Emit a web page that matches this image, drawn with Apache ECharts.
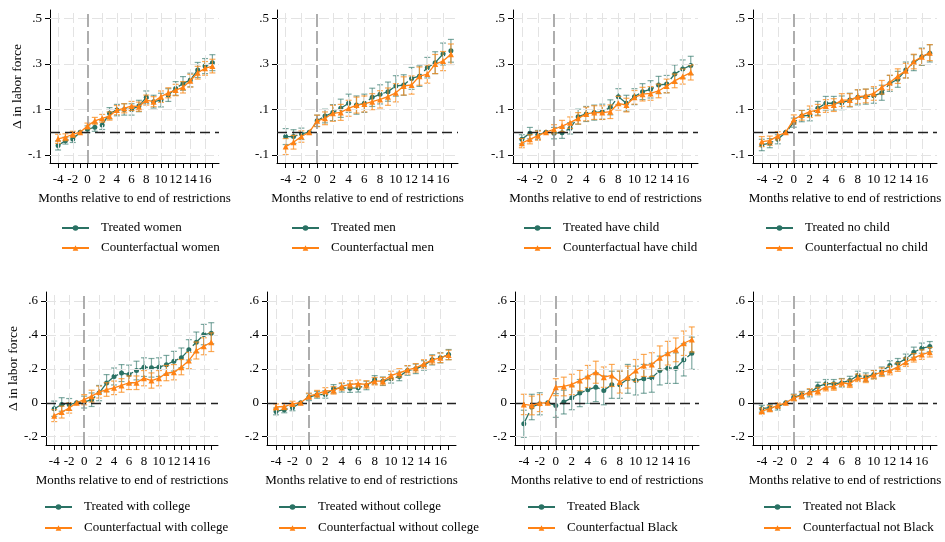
<!DOCTYPE html>
<html><head><meta charset="utf-8">
<script src="https://cdn.jsdelivr.net/npm/echarts@6/dist/echarts.min.js"></script>
<style>html,body{margin:0;padding:0;background:#fff}#c{width:945px;height:542px}</style>
</head><body><div id="c"></div>
<script>
// ---------- data ----------
const months = [-4,-3,-2,-1,0,1,2,3,4,5,6,7,8,9,10,11,12,13,14,15,16,17];
const xTickLabels = [-4,-2,0,2,4,6,8,10,12,14,16];
const yTicksTop = [-0.1,0.1,0.3,0.5];
const yTicksBottom = [-0.2,0,0.2,0.4,0.6];
const groups = ['women','men','have child','no child','with college','without college','Black','not Black'];

const treated_women = [-0.058,-0.037,-0.030,0,0.013,0.022,0.032,0.083,0.097,0.100,0.100,0.115,0.153,0.134,0.141,0.163,0.192,0.214,0.229,0.273,0.290,0.305];
const ci_treated_women = [0.020,0.015,0.015,0,0.015,0.018,0.020,0.025,0.025,0.025,0.025,0.025,0.028,0.028,0.030,0.028,0.030,0.030,0.030,0.033,0.033,0.035];
const cf_women = [-0.029,-0.022,-0.009,0,0.027,0.050,0.061,0.071,0.097,0.105,0.115,0.112,0.141,0.134,0.156,0.173,0.185,0.197,0.226,0.261,0.280,0.290];
const ci_cf_women = [0.020,0.015,0.013,0,0.013,0.015,0.017,0.018,0.020,0.020,0.020,0.020,0.022,0.022,0.025,0.022,0.025,0.025,0.028,0.028,0.030,0.030];

const treated_men = [-0.019,-0.019,-0.007,0,0.050,0.071,0.086,0.105,0.127,0.119,0.127,0.153,0.166,0.178,0.203,0.207,0.236,0.246,0.283,0.305,0.343,0.357];
const ci_treated_men = [0.035,0.030,0.025,0,0.025,0.030,0.035,0.040,0.040,0.040,0.040,0.040,0.042,0.042,0.045,0.045,0.048,0.045,0.045,0.048,0.048,0.050];
const cf_men = [-0.063,-0.044,-0.019,0,0.050,0.061,0.083,0.087,0.105,0.119,0.124,0.134,0.144,0.156,0.173,0.203,0.207,0.246,0.255,0.299,0.312,0.342];
const ci_cf_men = [0.035,0.030,0.025,0,0.025,0.028,0.035,0.035,0.035,0.035,0.035,0.035,0.038,0.038,0.040,0.040,0.040,0.040,0.040,0.042,0.042,0.045];

const treated_child = [-0.031,-0.004,-0.012,0,-0.004,-0.002,0.017,0.068,0.080,0.086,0.090,0.109,0.156,0.127,0.156,0.178,0.188,0.207,0.211,0.255,0.277,0.293];
const ci_treated_child = [0.020,0.025,0.020,0,0.025,0.025,0.025,0.033,0.033,0.033,0.033,0.033,0.035,0.035,0.035,0.035,0.038,0.038,0.038,0.040,0.040,0.040];
const cf_child = [-0.048,-0.031,-0.015,0,0.013,0.027,0.042,0.061,0.080,0.086,0.086,0.090,0.127,0.119,0.153,0.167,0.170,0.181,0.203,0.225,0.244,0.262];
const ci_cf_child = [0.020,0.020,0.020,0,0.020,0.025,0.025,0.025,0.030,0.030,0.030,0.030,0.030,0.030,0.030,0.030,0.030,0.030,0.030,0.030,0.033,0.033];

const treated_nochild = [-0.056,-0.048,-0.031,0,0.042,0.071,0.075,0.105,0.127,0.127,0.129,0.141,0.153,0.156,0.160,0.173,0.214,0.232,0.273,0.305,0.331,0.346];
const ci_treated_nochild = [0.025,0.020,0.020,0,0.020,0.025,0.025,0.030,0.030,0.030,0.030,0.030,0.033,0.033,0.033,0.033,0.035,0.035,0.035,0.035,0.038,0.038];
const cf_nochild = [-0.041,-0.037,-0.016,0,0.056,0.075,0.090,0.097,0.115,0.119,0.141,0.141,0.156,0.159,0.170,0.197,0.218,0.246,0.270,0.310,0.331,0.349];
const ci_cf_nochild = [0.022,0.020,0.018,0,0.020,0.022,0.025,0.025,0.028,0.028,0.028,0.028,0.030,0.030,0.030,0.030,0.032,0.032,0.032,0.032,0.035,0.035];

const treated_college = [-0.035,-0.010,-0.010,0,0.004,0.018,0.057,0.116,0.155,0.175,0.167,0.190,0.210,0.206,0.210,0.224,0.245,0.265,0.312,0.357,0.402,0.410];
const ci_treated_college = [0.045,0.040,0.035,0,0.035,0.040,0.045,0.050,0.050,0.050,0.055,0.055,0.055,0.055,0.055,0.055,0.058,0.058,0.060,0.060,0.060,0.062];
const cf_college = [-0.076,-0.055,-0.031,0,0.018,0.039,0.063,0.078,0.088,0.102,0.118,0.118,0.145,0.131,0.145,0.175,0.180,0.210,0.249,0.308,0.333,0.357];
const ci_cf_college = [0.035,0.035,0.030,0,0.030,0.035,0.035,0.040,0.040,0.040,0.040,0.040,0.045,0.045,0.045,0.045,0.045,0.045,0.048,0.050,0.050,0.055];

const treated_nocollege = [-0.051,-0.041,-0.029,0,0.033,0.047,0.049,0.082,0.088,0.086,0.088,0.102,0.135,0.127,0.141,0.155,0.190,0.200,0.220,0.253,0.265,0.284];
const ci_treated_nocollege = [0.020,0.018,0.018,0,0.020,0.020,0.022,0.025,0.025,0.025,0.025,0.025,0.025,0.025,0.025,0.025,0.028,0.028,0.028,0.030,0.030,0.030];
const cf_nocollege = [-0.025,-0.022,-0.006,0,0.039,0.053,0.069,0.073,0.096,0.108,0.112,0.108,0.127,0.127,0.161,0.176,0.194,0.206,0.229,0.253,0.265,0.282];
const ci_cf_nocollege = [0.018,0.018,0.015,0,0.018,0.020,0.020,0.022,0.022,0.022,0.022,0.022,0.022,0.022,0.025,0.025,0.025,0.025,0.025,0.025,0.028,0.028];

const treated_black = [-0.124,-0.025,-0.006,0,-0.016,0.004,0.029,0.057,0.076,0.092,0.073,0.106,0.106,0.141,0.131,0.141,0.147,0.190,0.204,0.204,0.253,0.292];
const ci_treated_black = [0.080,0.075,0.065,0,0.070,0.070,0.070,0.080,0.080,0.085,0.085,0.080,0.080,0.085,0.085,0.085,0.085,0.085,0.090,0.090,0.095,0.095];
const cf_black = [-0.010,-0.016,-0.002,0,0.092,0.096,0.108,0.131,0.155,0.180,0.151,0.161,0.122,0.151,0.190,0.220,0.225,0.265,0.292,0.312,0.351,0.373];
const ci_cf_black = [0.060,0.055,0.050,0,0.050,0.055,0.060,0.060,0.065,0.065,0.060,0.065,0.065,0.065,0.065,0.065,0.070,0.070,0.070,0.070,0.072,0.074];

const treated_notblack = [-0.035,-0.029,-0.025,0,0.033,0.047,0.057,0.096,0.112,0.112,0.118,0.131,0.161,0.151,0.167,0.186,0.220,0.233,0.259,0.298,0.322,0.331];
const ci_treated_notblack = [0.020,0.018,0.018,0,0.018,0.020,0.022,0.025,0.025,0.025,0.025,0.025,0.025,0.025,0.025,0.025,0.028,0.028,0.028,0.030,0.030,0.030];
const cf_notblack = [-0.049,-0.035,-0.016,0,0.029,0.043,0.063,0.069,0.092,0.096,0.118,0.112,0.147,0.141,0.165,0.180,0.190,0.210,0.239,0.265,0.284,0.298];
const ci_cf_notblack = [0.018,0.018,0.015,0,0.018,0.020,0.020,0.022,0.022,0.022,0.022,0.022,0.022,0.022,0.025,0.025,0.025,0.025,0.025,0.025,0.028,0.028];

const panels = [
  [treated_women, ci_treated_women, cf_women, ci_cf_women],
  [treated_men, ci_treated_men, cf_men, ci_cf_men],
  [treated_child, ci_treated_child, cf_child, ci_cf_child],
  [treated_nochild, ci_treated_nochild, cf_nochild, ci_cf_nochild],
  [treated_college, ci_treated_college, cf_college, ci_cf_college],
  [treated_nocollege, ci_treated_nocollege, cf_nocollege, ci_cf_nocollege],
  [treated_black, ci_treated_black, cf_black, ci_cf_black],
  [treated_notblack, ci_treated_notblack, cf_notblack, ci_cf_notblack]
];

// ---------- layout & style ----------
const FONT = 'Liberation Serif';
const TEAL = '#2a7264';
const TEAL_ERR = 'rgba(42,114,100,0.6)';
const ORANGE = '#ff8214';
const ORANGE_ERR = 'rgba(250,140,30,0.75)';
const layout = [
  {left:50, width:169, legendLeft:61},
  {left:277, width:181, legendLeft:291},
  {left:513, width:185, legendLeft:523},
  {left:753, width:184, legendLeft:765},
  {left:46, width:172, legendLeft:44},
  {left:267, width:189, legendLeft:278},
  {left:515, width:184, legendLeft:527},
  {left:753, width:184, legendLeft:763}
];
const rows = [
  {top:10, height:153, min:-0.135, max:0.536, ticks:yTicksTop, legendTop:221, gap:6, nameGap:24},
  {top:292, height:153, min:-0.249, max:0.653, ticks:yTicksBottom, legendTop:500, gap:7, nameGap:20}
];

function fmt(v){ return String(v).replace('0.', '.'); }

function errRender(params, api){
  const x = api.value(0), lo = api.value(1), hi = api.value(2);
  if (!(hi - lo > 0)) return;
  const a = api.coord([x, lo]), b = api.coord([x, hi]);
  const w = 3;
  const style = {stroke: api.visual('color'), lineWidth: 1.2, fill: null};
  return {type:'group', children:[
    {type:'line', shape:{x1:a[0], y1:a[1], x2:b[0], y2:b[1]}, style: style},
    {type:'line', shape:{x1:a[0]-w, y1:a[1], x2:a[0]+w, y2:a[1]}, style: style},
    {type:'line', shape:{x1:b[0]-w, y1:b[1], x2:b[0]+w, y2:b[1]}, style: style}
  ]};
}

const grid = [], xAxis = [], yAxis = [], series = [], legend = [];
panels.forEach((p, i) => {
  const L = layout[i], R = rows[i < 4 ? 0 : 1];
  const g = groups[i];
  const tName = 'Treated ' + g, cName = 'Counterfactual ' + g;
  grid.push({left:L.left, width:L.width, top:R.top, height:R.height, containLabel:false});
  xAxis.push({
    gridIndex:i, type:'value', min:-5.1, max:17.9,
    axisLine:{show:true, onZero:false, lineStyle:{color:'#000', width:1}},
    axisTick:{show:true, length:5, customValues:months, lineStyle:{color:'#000', width:1}},
    axisLabel:{customValues:xTickLabels, margin:10, fontFamily:FONT, fontSize:13, color:'#000', hideOverlap:false},
    splitLine:{show:false},
    name:'Months relative to end of restrictions', nameLocation:'middle', nameGap:29,
    nameTextStyle:{fontFamily:FONT, fontSize:13, color:'#000'}
  });
  const y = {
    gridIndex:i, type:'value', min:R.min, max:R.max,
    axisLine:{show:true, onZero:false, lineStyle:{color:'#000', width:1}},
    axisTick:{show:true, length:5, customValues:R.ticks, lineStyle:{color:'#000', width:1}},
    axisLabel:{customValues:R.ticks, margin:8, fontFamily:FONT, fontSize:13, color:'#000', formatter:fmt},
    splitLine:{show:false}
  };
  if (i === 0 || i === 4) {
    y.name = 'Δ in labor force'; y.nameLocation = 'middle'; y.nameGap = R.nameGap;
    y.nameTextStyle = {fontFamily:FONT, fontSize:13.5, color:'#000'};
  }
  yAxis.push(y);

  // background grid + reference lines
  const md = [];
  xTickLabels.forEach(v => { if (v !== 0) md.push({xAxis:v}); });
  R.ticks.forEach(v => { if (v !== 0) md.push({yAxis:v}); });
  md.push({yAxis:0, lineStyle:{color:'#222', width:1.3, type:[10,5]}});
  md.push({xAxis:0, lineStyle:{color:'#9a9a9a', width:1.6, type:[13,4]}});
  series.push({
    type:'line', xAxisIndex:i, yAxisIndex:i, data:[], z:1, silent:true,
    markLine:{silent:true, symbol:['none','none'], label:{show:false}, animation:false,
      lineStyle:{color:'#e3e3e3', width:1, type:[10,4]}, data:md}
  });

  const [tv, te, cv, ce] = p;
  series.push({
    type:'custom', xAxisIndex:i, yAxisIndex:i, z:2, silent:true,
    itemStyle:{color:TEAL_ERR}, renderItem:errRender, encode:{x:0, y:[1,2]},
    data: months.map((m, j) => [m, tv[j] - te[j], tv[j] + te[j]])
  });
  series.push({
    name:tName, type:'line', xAxisIndex:i, yAxisIndex:i, z:3,
    symbol:'circle', symbolSize:5, showAllSymbol:true,
    lineStyle:{color:TEAL, width:1.3, type:[12,4]}, itemStyle:{color:TEAL},
    data: months.map((m, j) => [m, tv[j]])
  });
  series.push({
    type:'custom', xAxisIndex:i, yAxisIndex:i, z:4, silent:true,
    itemStyle:{color:ORANGE_ERR}, renderItem:errRender, encode:{x:0, y:[1,2]},
    data: months.map((m, j) => [m, cv[j] - ce[j], cv[j] + ce[j]])
  });
  series.push({
    name:cName, type:'line', xAxisIndex:i, yAxisIndex:i, z:5,
    symbol:'triangle', symbolSize:6, showAllSymbol:true,
    lineStyle:{color:ORANGE, width:1.3}, itemStyle:{color:ORANGE},
    data: months.map((m, j) => [m, cv[j]])
  });

  legend.push({
    orient:'vertical', left:L.legendLeft, top:R.legendTop, padding:0, itemWidth:27, itemHeight:7,
    itemGap:R.gap, selectedMode:false, data:[tName, cName],
    textStyle:{fontFamily:FONT, fontSize:13, color:'#000', padding:[0,0,0,7], lineHeight:14}
  });
});

const chart = echarts.init(document.getElementById('c'), null, {renderer:'canvas'});
chart.setOption({animation:false, backgroundColor:'#fff', grid, xAxis, yAxis, series, legend});
</script>
</body></html>
